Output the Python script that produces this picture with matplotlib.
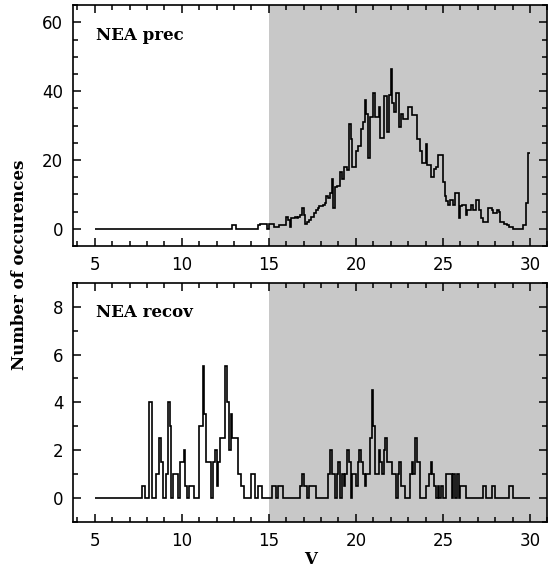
import numpy as np
import matplotlib
matplotlib.use("Agg")
import matplotlib.pyplot as plt
from matplotlib.ticker import MultipleLocator

# histogram of V, bins of 0.1 mag from 5 to 30 (one row per magnitude)
v_lo, v_hi, v_step = 5.0, 30.0, 0.1

prec = [
    0, 0, 0, 0, 0, 0, 0, 0, 0, 0,            # 5
    0, 0, 0, 0, 0, 0, 0, 0, 0, 0,            # 6
    0, 0, 0, 0, 0, 0, 0, 0, 0, 0,            # 7
    0, 0, 0, 0, 0, 0, 0, 0, 0, 0,            # 8
    0, 0, 0, 0, 0, 0, 0, 0, 0, 0,            # 9
    0, 0, 0, 0, 0, 0, 0, 0, 0, 0,            # 10
    0, 0, 0, 0, 0, 0, 0, 0, 0, 0,            # 11
    0, 0, 0, 0, 0, 0, 0, 0, 0, 1,            # 12
    1, 0, 0, 0, 0, 0, 0, 0, 0, 0,            # 13
    0, 0, 0, 0, 1, 1.5, 1.5, 1.5, 1.5, 0,    # 14
    1.5, 1.5, 1.5, 0.5, 0.5, 0.5, 1, 1, 1, 1,        # 15
    3.5, 2.5, 0.5, 3, 3, 3.5, 3, 3.5, 4, 6,          # 16
    4, 1.5, 2, 2.5, 3.5, 3.5, 4.5, 5.5, 6, 6.5,      # 17
    6.5, 7, 7.5, 9.5, 9, 10.5, 14.5, 6, 12, 12.5,    # 18
    12.5, 16.5, 14.5, 18, 18, 17, 30.5, 26, 18, 18,  # 19
    22.5, 24, 24, 29, 31, 37.5, 33.5, 20.5, 32.5, 32.5,   # 20
    39.5, 32.5, 32.5, 35.5, 26.5, 26.5, 38.5, 38.5, 28, 39,  # 21
    46.5, 36.5, 34, 39.5, 39.5, 29.5, 33.5, 32, 32, 32,   # 22
    35.5, 35.5, 33, 33, 33, 26, 26, 22.5, 19, 19,    # 23
    24.5, 18.5, 18.5, 15, 15, 17.5, 18, 21.5, 21.5, 21.5,  # 24
    13.5, 9.5, 8, 7, 8.5, 8.5, 7, 10.5, 10.5, 3,     # 25
    6.5, 7, 7, 4, 5.5, 5.5, 7, 5.5, 5.5, 8.5,        # 26
    8.5, 5.5, 3, 2, 2, 2, 6, 6, 5.5, 4.5,            # 27
    4.5, 5.5, 5, 2, 2, 1.5, 1.5, 1, 0.5, 0.5,        # 28
    0, 0, 0, 0, 0, 0, 1, 1, 7.5, 22,                 # 29
]

recov = [
    0, 0, 0, 0, 0, 0, 0, 0, 0, 0,            # 5
    0, 0, 0, 0, 0, 0, 0, 0, 0, 0,            # 6
    0, 0, 0, 0, 0, 0, 0, 0.5, 0.5, 0,        # 7
    0, 4, 4, 0, 0, 1, 1, 2.5, 1.5, 0,        # 8
    0, 1, 4, 3, 0, 1, 1, 1, 0, 1.5,          # 9
    1.5, 2, 0.5, 0, 0.5, 0.5, 0.5, 0, 0, 0,  # 10
    3, 3, 5.5, 3.5, 1.5, 1.5, 1.5, 0, 1.5, 2,        # 11
    0.5, 1.5, 2.5, 2.5, 2.5, 5.5, 4, 2, 3.5, 2.5,    # 12
    2.5, 2.5, 1, 1, 0.5, 0.5, 0, 0, 0, 0,    # 13
    1, 1, 0, 0, 0.5, 0.5, 0, 0, 0, 0,        # 14
    0, 0, 0.5, 0.5, 0, 0.5, 0.5, 0.5, 0, 0,  # 15
    0, 0, 0, 0, 0, 0, 0, 0, 0.5, 1,          # 16
    0.5, 0.5, 0, 0.5, 0.5, 0.5, 0.5, 0, 0, 0,        # 17
    0, 0, 0, 0, 1, 2, 1, 1, 0, 1,            # 18
    1.5, 0, 1, 0.5, 1, 2, 1.5, 0, 1, 1,      # 19
    0.5, 1.5, 2, 1.5, 1, 0.5, 1, 1, 2.5, 4.5,        # 20
    3, 1, 1, 2, 1.5, 1, 2, 2.5, 1.5, 1.5,    # 21
    1.5, 1, 1, 0, 1, 1.5, 0.5, 0.5, 0, 0,    # 22
    0, 1, 1.5, 1, 2.5, 1.5, 1.5, 0, 0, 0,    # 23
    0.5, 0.5, 1, 1.5, 1, 0.5, 0, 0.5, 0, 0.5,        # 24
    0, 0, 1, 1, 1, 0, 1, 0, 1, 0,            # 25
    0.5, 0.5, 0.5, 0, 0, 0, 0, 0, 0, 0,      # 26
    0, 0, 0, 0.5, 0.5, 0, 0, 0, 0.5, 0.5,    # 27
    0, 0, 0, 0, 0, 0, 0, 0, 0.5, 0.5,        # 28
    0, 0, 0, 0, 0, 0, 0, 0, 0, 0,            # 29
]

edges = np.linspace(v_lo, v_hi, len(prec) + 1)
shade_from = 15

serif = dict(family="DejaVu Serif", weight="bold", size=12)

fig = plt.figure(figsize=(5.49, 5.76), dpi=100)
ax1 = fig.add_axes([0.133, 0.573, 0.864, 0.418])
ax2 = fig.add_axes([0.133, 0.094, 0.864, 0.415])

panels = [(ax1, prec, "NEA prec", (-5, 65), 20, 5),
          (ax2, recov, "NEA recov", (-1, 9), 2, 1)]

for ax, vals, name, ylim, ymaj, ymin in panels:
    ax.axvspan(shade_from, 40, color="#c8c8c8", lw=0, zorder=0)
    ax.stairs(vals, edges, baseline=None, color="k", lw=1.2, zorder=2)
    ax.set_xlim(3.75, 31.0)
    ax.set_ylim(*ylim)
    ax.xaxis.set_major_locator(MultipleLocator(5))
    ax.xaxis.set_minor_locator(MultipleLocator(1))
    ax.yaxis.set_major_locator(MultipleLocator(ymaj))
    ax.yaxis.set_minor_locator(MultipleLocator(ymin))
    ax.tick_params(which="both", direction="in", top=True, right=True,
                   width=1.1, labelsize=12, pad=7)
    ax.tick_params(which="major", length=6)
    ax.tick_params(which="minor", length=3.5)
    for s in ax.spines.values():
        s.set_linewidth(1.2)
        s.set_zorder(3)
    ax.text(0.048, 0.855, name, transform=ax.transAxes, va="baseline", **serif)

fig.text(0.036, 0.54, "Number of occurences", rotation=90,
         ha="center", va="center", **serif)
fig.text(0.566, 0.028, "V", ha="center", va="center", **serif)

fig.savefig("out.png", dpi=100)
